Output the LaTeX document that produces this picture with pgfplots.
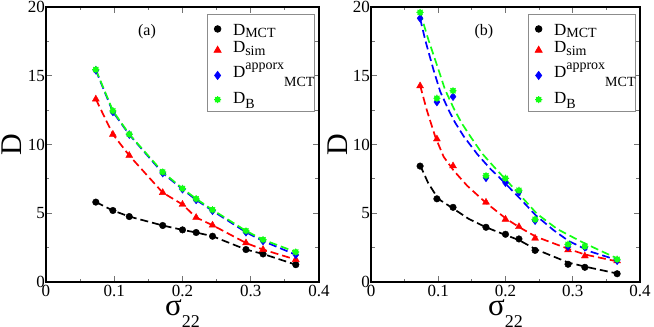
\documentclass[border=0pt]{standalone}
\usepackage{fontspec}
\setmainfont{Liberation Serif}
\usepackage{pgfplots}
\usepackage{pgfplotstable}
\pgfplotsset{compat=1.18}

\definecolor{gRed}{RGB}{255,0,0}
\definecolor{gBlue}{RGB}{0,0,255}
\definecolor{gGreen}{RGB}{20,255,20}

% xmgrace-like filled star
\pgfdeclareplotmark{burst}{%
  \pgfpathcircle{\pgfpointorigin}{0.7\pgfplotmarksize}%
  \pgfusepathqfillstroke
  \pgfpathmoveto{\pgfqpoint{-\pgfplotmarksize}{0pt}}\pgfpathlineto{\pgfqpoint{\pgfplotmarksize}{0pt}}%
  \pgfpathmoveto{\pgfqpoint{0pt}{-\pgfplotmarksize}}\pgfpathlineto{\pgfqpoint{0pt}{\pgfplotmarksize}}%
  \pgfpathmoveto{\pgfqpoint{-0.7\pgfplotmarksize}{-0.7\pgfplotmarksize}}\pgfpathlineto{\pgfqpoint{0.7\pgfplotmarksize}{0.7\pgfplotmarksize}}%
  \pgfpathmoveto{\pgfqpoint{-0.7\pgfplotmarksize}{0.7\pgfplotmarksize}}\pgfpathlineto{\pgfqpoint{0.7\pgfplotmarksize}{-0.7\pgfplotmarksize}}%
  \pgfusepathqstroke}

\newcommand\sub[2]{\raisebox{#1}{\fontsize{14}{14}\selectfont #2}}

% (a): sigma_22, D_MCT, D_sim, D^approx_MCT, D_B
\pgfplotstableread{
x     mct   sim    apx    bb
0.073 5.81  13.30  15.40  15.45
0.098 5.20  10.74  12.37  12.45
0.122 4.76  9.20   10.72  10.75
0.171 4.11  6.50   7.92   8.00
0.200 3.79  5.64   6.75   6.80
0.220 3.60  4.69   5.97   6.05
0.244 3.33  4.13   5.18   5.25
0.293 2.36  2.84   3.62   3.72
0.318 2.04  2.36   2.98   3.08
0.366 1.26  1.63   1.98   2.18
}\dataA

% (b): points
\pgfplotstableread{
x     mct   sim    apx    bb
0.073 8.43  14.26  19.18  19.61
0.098 6.05  10.40  13.09  13.36
0.122 5.43  8.44   13.48  13.91
0.171 3.98  5.80   7.58   7.73
0.200 3.47  4.56   7.22   7.54
0.220 3.13  4.02   6.55   6.67
0.244 2.30  3.18   4.46   4.56
0.293 1.29  2.33   2.57   2.74
0.318 1.07  1.89   2.52   2.59
0.366 0.60  1.53   1.55   1.65
}\dataB

% (b): dashed fit curves, read off the picture
\pgfplotstableread{
x      y
0.073  8.50
0.085  7.20
0.098  6.20
0.103  5.95
0.122  5.35
0.145  4.60
0.171  3.98
0.200  3.42
0.220  3.05
0.244  2.40
0.293  1.42
0.318  1.12
0.366  0.62
}\fitBmct
\pgfplotstableread{
x      y
0.073  14.30
0.083  12.50
0.0955 10.57
0.108  9.11
0.123  8.10
0.143  7.00
0.170  5.80
0.201  4.60
0.220  4.00
0.245  3.30
0.294  2.40
0.318  2.00
0.366  1.50
}\fitBsim
\pgfplotstableread{
x      y
0.073  19.18
0.0806 17.60
0.093  15.42
0.103  13.84
0.1154 12.51
0.125  11.60
0.1378 10.60
0.158  9.30
0.178  8.20
0.190  7.65
0.200  7.15
0.222  6.05
0.245  4.85
0.272  3.75
0.294  2.98
0.327  2.20
0.366  1.60
}\fitBapx
\pgfplotstableread{
x      y
0.073  19.61
0.0855 17.60
0.1005 15.42
0.110  14.00
0.123  12.63
0.135  11.54
0.148  10.57
0.165  9.36
0.1826 8.39
0.1975 7.60
0.222  6.30
0.247  4.95
0.277  3.85
0.312  2.95
0.340  2.30
0.366  1.72
}\fitBbb

\tikzset{fitline/.style={line width=1.7pt, dash pattern=on 8pt off 4pt}}

\pgfplotsset{
  panel/.style={
    scale only axis, height=275pt,
    xmin=0, xmax=0.4, ymin=0, ymax=20,
    xtick={0,0.1,0.2,0.3,0.4}, xticklabels={0,0.1,0.2,0.3,0.4},
    ytick={0,5,10,15,20},
    minor x tick num=1, minor y tick num=1,
    tick align=inside, tick pos=both,
    major tick length=6pt, minor tick length=3.5pt,
    every tick/.style={black!55, line width=0.8pt},
    axis line style={line width=1.8pt},
    tick label style={font=\fontsize{17}{17}\selectfont},
    /pgf/number format/assume math mode=true,
    xticklabel style={inner sep=1pt, yshift=-2pt},
    yticklabel style={inner sep=1pt},
    xlabel={σ\raisebox{-12pt}{\fontsize{18}{18}\selectfont 22}},
    xlabel style={font=\fontsize{31}{31}\selectfont, at={(axis description cs:0.5,-0.12)}, anchor=base},
    ylabel={D},
    ylabel style={font=\fontsize{30}{30}\selectfont, at={(axis description cs:-0.125,0.5)}, anchor=center},
    legend cell align=left,
    legend style={at={(rel axis cs:0.985,0.975)}, anchor=north east,
      draw=black!45, line width=0.8pt, fill=white,
      inner xsep=0pt, inner ysep=3pt, column sep=3pt, row sep=0pt,
      nodes={inner sep=0pt, text depth=}, cells={anchor=base west},
      font=\fontsize{17}{17}\selectfont},
  },
  mMCT/.style={black, only marks, mark=*, mark size=3.3pt,
    legend image code/.code={\path (0pt,0pt) (22pt,0pt); \draw[##1] plot coordinates {(10pt,6.3pt)};}},
  mSIM/.style={gRed, only marks, mark=triangle*, mark size=4pt, mark options={fill=gRed},
    legend image code/.code={\path (0pt,0pt) (22pt,0pt); \draw[##1] plot coordinates {(10pt,2.5pt)};}},
  mAPX/.style={gBlue, only marks, mark=diamond*, mark size=4pt, mark options={fill=gBlue},
    legend image code/.code={\path (0pt,0pt) (22pt,0pt); \draw[##1] plot coordinates {(10pt,1.8pt)};}},
  mBB/.style={gGreen, only marks, mark=burst, mark size=3.6pt, mark options={fill=gGreen, line width=0.9pt},
    legend image code/.code={\path (0pt,0pt) (22pt,0pt); \draw[##1] plot coordinates {(10pt,3.8pt)};}},
}

\begin{document}
\begin{tikzpicture}
\useasboundingbox (-46pt,-45pt) rectangle (608pt,282pt);

\begin{axis}[panel, width=273pt, at={(0pt,0pt)}, anchor=south west]
\addplot[black, fitline, forget plot] table[x=x, y=mct] {\dataA};
\addplot[mMCT] table[x=x, y=mct] {\dataA};
\addlegendentry{\rule[-6pt]{0pt}{24pt}D\sub{-2pt}{MCT}}
\addplot[gRed, fitline, forget plot] table[x=x, y=sim] {\dataA};
\addplot[mSIM] table[x=x, y=sim] {\dataA};
\addlegendentry{\rule[-7.5pt]{0pt}{19pt}D\sub{-3pt}{sim}}
\addplot[gBlue, fitline, forget plot] table[x=x, y=apx] {\dataA};
\addplot[mAPX] table[x=x, y=apx] {\dataA};
\addlegendentry{\rule[-9pt]{0pt}{26pt}D\sub{8pt}{apporx}\sub{-9pt}{MCT}\hspace{8pt}}
\addplot[gGreen, fitline, forget plot] table[x=x, y=bb] {\dataA};
\addplot[mBB] table[x=x, y=bb] {\dataA};
\addlegendentry{\rule[-5pt]{0pt}{22pt}D\sub{-5pt}{B}}
\node[font=\fontsize{16}{16}\selectfont] at (rel axis cs:0.37,0.909) {(a)};
\end{axis}

\begin{axis}[panel, width=269pt, at={(325pt,0pt)}, anchor=south west]
\addplot[black, fitline, forget plot] table[x=x, y=y] {\fitBmct};
\addplot[mMCT] table[x=x, y=mct] {\dataB};
\addlegendentry{\rule[-6pt]{0pt}{24pt}D\sub{-2pt}{MCT}}
\addplot[gRed, fitline, forget plot] table[x=x, y=y] {\fitBsim};
\addplot[mSIM] table[x=x, y=sim] {\dataB};
\addlegendentry{\rule[-7.5pt]{0pt}{19pt}D\sub{-3pt}{sim}}
\addplot[gBlue, fitline, forget plot] table[x=x, y=y] {\fitBapx};
\addplot[mAPX] table[x=x, y=apx] {\dataB};
\addlegendentry{\rule[-9pt]{0pt}{26pt}D\sub{8pt}{approx}\sub{-9pt}{MCT}\hspace{8pt}}
\addplot[gGreen, fitline, forget plot] table[x=x, y=y] {\fitBbb};
\addplot[mBB] table[x=x, y=bb] {\dataB};
\addlegendentry{\rule[-5pt]{0pt}{22pt}D\sub{-5pt}{B}}
\node[font=\fontsize{16}{16}\selectfont] at (rel axis cs:0.42,0.909) {(b)};
\end{axis}
\end{tikzpicture}
\end{document}
